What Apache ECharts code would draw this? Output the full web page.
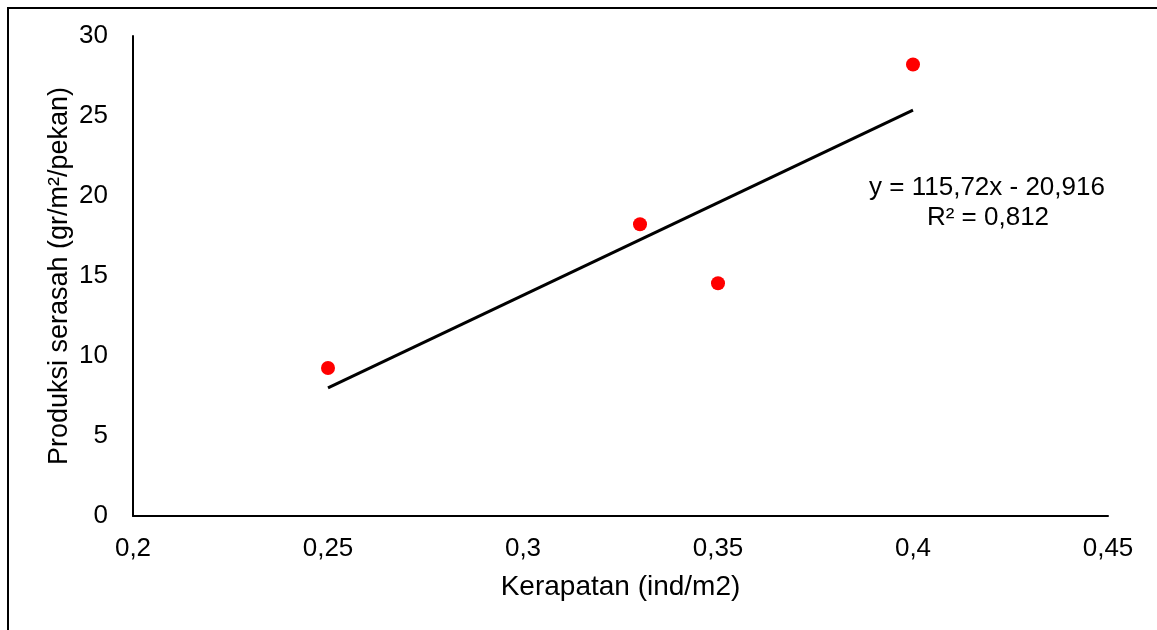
<!DOCTYPE html>
<html>
<head>
<meta charset="utf-8">
<script src="https://cdn.jsdelivr.net/npm/echarts@6/dist/echarts.min.js"></script>
<style>html,body{margin:0;padding:0;background:#fff;}#c{width:1157px;height:630px;}</style>
</head>
<body>
<div id="c"></div>
<script>
const kerapatan = [0.25, 0.33, 0.35, 0.40];
const produksi = [9.25, 18.23, 14.55, 28.22];
const trendX = [0.25, 0.40];
const trendY = [8.014, 25.372];
const equationText = 'y = 115,72x - 20,916';
const r2Text = 'R² = 0,812';
const xTitle = 'Kerapatan (ind/m2)';
const yTitle = 'Produksi serasah (gr/m²/pekan)';

const font = 'Liberation Sans, Arial, sans-serif';
const chart = echarts.init(document.getElementById('c'), null, {renderer: 'canvas'});
const fmt = v => String(Math.round(v * 100) / 100).replace('.', ',');
chart.setOption({
  animation: false,
  backgroundColor: '#fff',
  grid: {left: 133, right: 49, top: 36, bottom: 114, containLabel: false},
  xAxis: {
    type: 'value', min: 0.2, max: 0.45, interval: 0.05,
    axisLine: {show: true, lineStyle: {color: '#000', width: 2}},
    axisTick: {show: false},
    splitLine: {show: false},
    axisLabel: {color: '#000', fontSize: 26, fontFamily: font, margin: 20, formatter: fmt},
    name: xTitle, nameLocation: 'middle', nameGap: 57,
    nameTextStyle: {color: '#000', fontSize: 28, fontFamily: font}
  },
  yAxis: {
    type: 'value', min: 0, max: 30, interval: 5,
    axisLine: {show: true, lineStyle: {color: '#000', width: 2}},
    axisTick: {show: false},
    splitLine: {show: false},
    axisLabel: {color: '#000', fontSize: 26, fontFamily: font, margin: 25},
    name: yTitle, nameLocation: 'middle', nameGap: 60, nameRotate: 90,
    nameMoveOverlap: false,
    nameTextStyle: {color: '#000', fontSize: 27, fontFamily: font}
  },
  series: [
    {
      type: 'line', data: trendX.map((x, i) => [x, trendY[i]]),
      symbol: 'none', lineStyle: {color: '#000', width: 3}, silent: true, z: 2
    },
    {
      type: 'scatter', data: kerapatan.map((x, i) => [x, produksi[i]]),
      symbol: 'circle', symbolSize: 14, itemStyle: {color: '#ff0000', opacity: 1}, z: 3
    }
  ],
  graphic: [
    {type: 'polyline', shape: {points: [[8, 630], [8, 8], [1157, 8]]}, style: {stroke: '#000', lineWidth: 2, fill: null}},
    {type: 'text', x: 987, y: 188, style: {text: equationText, fill: '#000', font: '26px ' + font, textAlign: 'center', textVerticalAlign: 'middle'}},
    {type: 'text', x: 988, y: 218, style: {text: r2Text, fill: '#000', font: '26px ' + font, textAlign: 'center', textVerticalAlign: 'middle'}}
  ]
});
</script>
</body>
</html>
